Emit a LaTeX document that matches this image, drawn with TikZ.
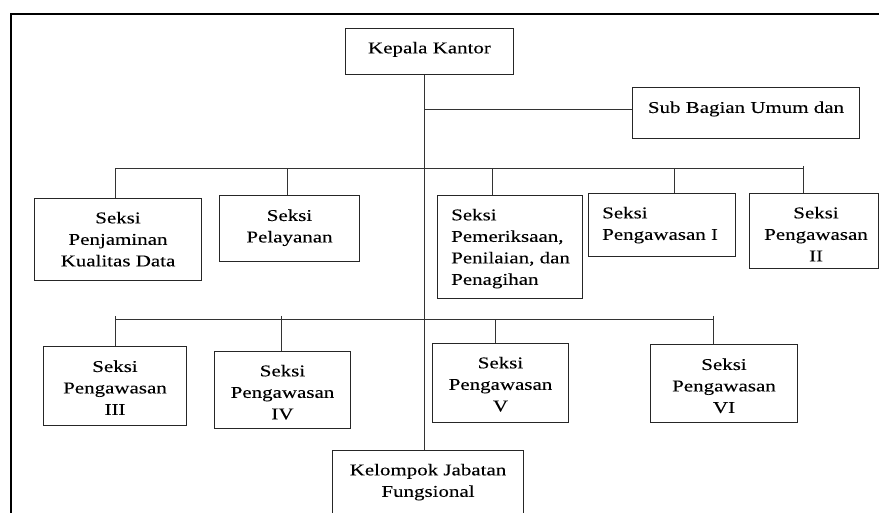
\documentclass[tikz,border=0pt]{standalone}
\usepackage{fontspec}
\setmainfont{Liberation Serif}[FakeStretch=1.27,FakeBold=0.12]
\begin{document}
\begin{tikzpicture}[x=1pt,y=-1pt,
  box/.style={draw=black!85, line width=1pt, inner sep=0pt, anchor=north west},
  txt/.style={inner sep=0pt, align=center, anchor=north, font=\fontsize{16.5}{21.5}\selectfont},
  txtl/.style={inner sep=0pt, align=left, anchor=north west, font=\fontsize{16.5}{21.5}\selectfont},
  conn/.style={draw=black!80, line width=1pt},
  frame/.style={draw=black, line width=2pt}]
\useasboundingbox (0,0) rectangle (879,513);
\clip (0,0) rectangle (879,513);
% outer frame
\coordinate (fr1) at (11,525);
\coordinate (fr2) at (11,14);
\coordinate (fr3) at (890,14);
\draw[frame] (fr1) -- (fr2) -- (fr3);
% boxes
\node[box, minimum width=168pt, minimum height=46pt] (kepala) at (345,28) {};
\node[box, minimum width=227pt, minimum height=51pt] (sub) at (632,87) {};
\node[box, minimum width=167pt, minimum height=82pt] (penjaminan) at (34,198) {};
\node[box, minimum width=140pt, minimum height=66pt] (pelayanan) at (219,195) {};
\node[box, minimum width=145pt, minimum height=103pt] (pemeriksaan) at (437,195) {};
\node[box, minimum width=147pt, minimum height=63pt] (pengI) at (588,193) {};
\node[box, minimum width=129pt, minimum height=75pt] (pengII) at (749,193) {};
\node[box, minimum width=143pt, minimum height=79pt] (pengIII) at (43,346) {};
\node[box, minimum width=136pt, minimum height=77pt] (pengIV) at (214,351) {};
\node[box, minimum width=136pt, minimum height=79pt] (pengV) at (432,343) {};
\node[box, minimum width=147pt, minimum height=78pt] (pengVI) at (650,344) {};
\node[box, minimum width=191pt, minimum height=80pt] (kelompok) at (332,450) {};
% texts
\node[txt] (kepala-t) at ([yshift=-13.7pt]kepala.north) {Kepala Kantor};
\node[txt] (sub-t) at ([yshift=-14.3pt]sub.north) {Sub Bagian Umum dan};
\node[txt] (penjaminan-t) at ([yshift=-13.7pt]penjaminan.north) {Seksi\\Penjaminan\\Kualitas Data};
\node[txt] (pelayanan-t) at ([yshift=-14.3pt]pelayanan.north) {Seksi\\Pelayanan};
\node[txtl] (pemeriksaan-t) at ([xshift=14pt,yshift=-13.7pt]pemeriksaan.north west) {Seksi\\Pemeriksaan,\\Penilaian, dan\\Penagihan};
\node[txtl] (pengI-t) at ([xshift=14pt,yshift=-13.7pt]pengI.north west) {Seksi\\Pengawasan I};
\node[txt] (pengII-t) at ([xshift=2pt,yshift=-13.7pt]pengII.north) {Seksi\\Pengawasan\\II};
\node[txt] (pengIII-t) at ([yshift=-14.3pt]pengIII.north) {Seksi\\Pengawasan\\III};
\node[txt] (pengIV-t) at ([yshift=-13.7pt]pengIV.north) {Seksi\\Pengawasan\\IV};
\node[txt] (pengV-t) at ([yshift=-13.7pt]pengV.north) {Seksi\\Pengawasan\\V};
\node[txt] (pengVI-t) at ([yshift=-14.3pt]pengVI.north) {Seksi\\Pengawasan\\VI};
\node[txt] (kelompok-t) at ([yshift=-13.7pt]kelompok.north) {Kelompok Jabatan\\Fungsional};
% connectors
\coordinate (spine) at (424,0);
\coordinate (subY) at (0,110);
\draw[conn] (kepala.south -| spine) -- (kelompok.north -| spine);
\draw[conn] (spine |- subY) -- (sub.west |- subY);
% upper bus
\coordinate (a1) at (115,169);
\coordinate (a2) at (287,169);
\coordinate (a3) at (492,169);
\coordinate (a4) at (674,169);
\coordinate (a5) at (803,169);
\coordinate (a5t) at (803,166);
\draw[conn] (a1) -- (a5);
\draw[conn] (a1) -- (a1 |- penjaminan.north);
\draw[conn] (a2) -- (a2 |- pelayanan.north);
\draw[conn] (a3) -- (a3 |- pemeriksaan.north);
\draw[conn] (a4) -- (a4 |- pengI.north);
\draw[conn] (a5t) -- (a5 |- pengII.north);
% lower bus
\coordinate (b1) at (115,320);
\coordinate (b2) at (281,320);
\coordinate (b3) at (495,320);
\coordinate (b4) at (713,320);
\coordinate (b1t) at (115,316);
\coordinate (b2t) at (281,316);
\coordinate (b4t) at (713,316);
\draw[conn] (b1) -- (b4);
\draw[conn] (b1t) -- (b1 |- pengIII.north);
\draw[conn] (b2t) -- (b2 |- pengIV.north);
\draw[conn] (b3) -- (b3 |- pengV.north);
\draw[conn] (b4t) -- (b4 |- pengVI.north);
\end{tikzpicture}
\end{document}
